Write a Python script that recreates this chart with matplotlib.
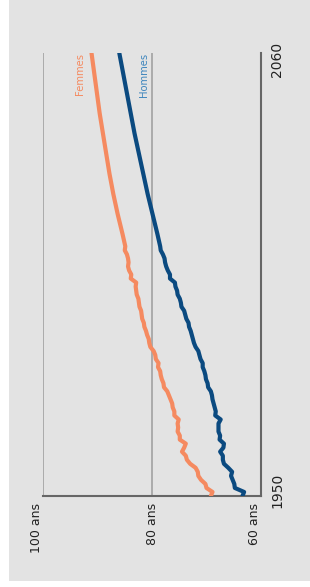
import matplotlib
matplotlib.use('Agg')
import matplotlib.pyplot as plt
from matplotlib.patches import Rectangle
import matplotlib.transforms as mtransforms

# ---- data -------------------------------------------------------------
years_obs = list(range(1950, 2013))
femmes_obs = [69.2, 68.9, 70.0, 70.2, 71.0, 71.5, 71.6, 72.0, 73.0, 73.6,
              73.8, 74.5, 74.1, 73.8, 74.9, 74.9, 75.3, 75.2, 75.3, 75.1,
              75.9, 75.9, 76.2, 76.3, 76.6, 76.9, 77.2, 77.8, 77.9, 78.2,
              78.4, 78.5, 78.9, 78.8, 79.3, 79.4, 79.7, 80.3, 80.5, 80.6,
              80.9, 81.1, 81.4, 81.5, 81.8, 81.9, 82.0, 82.3, 82.4, 82.5,
              82.8, 82.9, 83.0, 82.9, 83.9, 83.8, 84.2, 84.4, 84.3, 84.4,
              84.6, 85.0, 84.9]
hommes_obs = [63.4, 63.1, 64.8, 64.9, 65.2, 65.5, 65.3, 66.0, 66.8, 67.0,
              67.0, 67.5, 66.9, 66.8, 67.6, 67.5, 67.8, 67.8, 67.8, 67.4,
              68.4, 68.3, 68.5, 68.7, 68.9, 69.0, 69.2, 69.7, 69.8, 70.1,
              70.2, 70.4, 70.7, 70.7, 71.1, 71.3, 71.5, 72.0, 72.3, 72.5,
              72.7, 72.9, 73.2, 73.3, 73.7, 73.9, 74.1, 74.6, 74.7, 74.9,
              75.3, 75.4, 75.7, 75.8, 76.7, 76.7, 77.1, 77.4, 77.6, 77.7,
              78.0, 78.4, 78.5]
years_proj = [2015, 2020, 2025, 2030, 2035, 2040, 2045, 2050, 2055, 2060]
femmes_proj = [85.4, 86.3, 87.1, 87.8, 88.4, 89.0, 89.6, 90.1, 90.6, 91.1]
hommes_proj = [79.0, 79.9, 80.8, 81.6, 82.4, 83.2, 83.9, 84.6, 85.3, 86.0]

x_ticks = [100, 80, 60]
x_tick_labels = ['100 ans', '80 ans', '60 ans']
year_labels = [1950, 2060]
series_names = ['Femmes', 'Hommes']

# ---- styles -----------------------------------------------------------
C_F = '#f58a60'
C_H = '#0b4a80'
C_H_LABEL = '#3f86bd'
BG = '#e3e3e3'
GRID = '#ababab'
SPINE = '#666666'

W, H = 310, 587
fig = plt.figure(figsize=(W / 100, H / 100), dpi=100, facecolor='white')
bg = Rectangle((9 / W, 6 / H), 1 - 9 / W, 1 - 6 / H,
               transform=fig.transFigure, facecolor=BG,
               edgecolor='none', zorder=-10)
fig.add_artist(bg)

ax = fig.add_axes([43 / W, (H - 496) / H, 218 / W, 443 / H])
ax.set_facecolor('none')
ax.set_zorder(1)

years_f = years_obs + years_proj
ax.plot(femmes_obs + femmes_proj, years_f, color=C_F, lw=3.0,
        solid_capstyle='round', solid_joinstyle='round', zorder=3)
ax.plot(hommes_obs + hommes_proj, years_f, color=C_H, lw=3.0,
        solid_capstyle='round', solid_joinstyle='round', zorder=3)

ax.set_xlim(100, 60)
ax.set_ylim(1950, 2060)

for v in x_ticks[:2]:
    ax.axvline(v, color=GRID, lw=1.4, zorder=1)

for s in ['left', 'top']:
    ax.spines[s].set_visible(False)
for s in ['right', 'bottom']:
    ax.spines[s].set_color(SPINE)
    ax.spines[s].set_linewidth(1.5)

ax.set_xticks(x_ticks)
ax.set_xticklabels(x_tick_labels, rotation=90, fontsize=9, color='#222222')
ax.tick_params(axis='x', length=0, pad=5)
for lab, ha in zip(ax.get_xticklabels(), ['right', 'center', 'right']):
    lab.set_ha(ha)
    lab.set_va('top')
ax.set_yticks([])

for yr, dy in zip(year_labels, [0.06, -0.06]):
    tr = ax.get_yaxis_transform() + mtransforms.ScaledTranslation(0.09, dy, fig.dpi_scale_trans)
    ax.text(1.0, yr, str(yr), transform=tr, rotation=90, ha='left',
            va='center', fontsize=10, color='#222222')

ax.text(92.3, 2060, series_names[0], rotation=90, ha='right', va='top',
        fontsize=7.2, color=C_F)
ax.text(80.55, 2060, series_names[1], rotation=90, ha='right', va='top',
        fontsize=7.2, color=C_H_LABEL)

fig.savefig('out.png', dpi=100, facecolor='white')
